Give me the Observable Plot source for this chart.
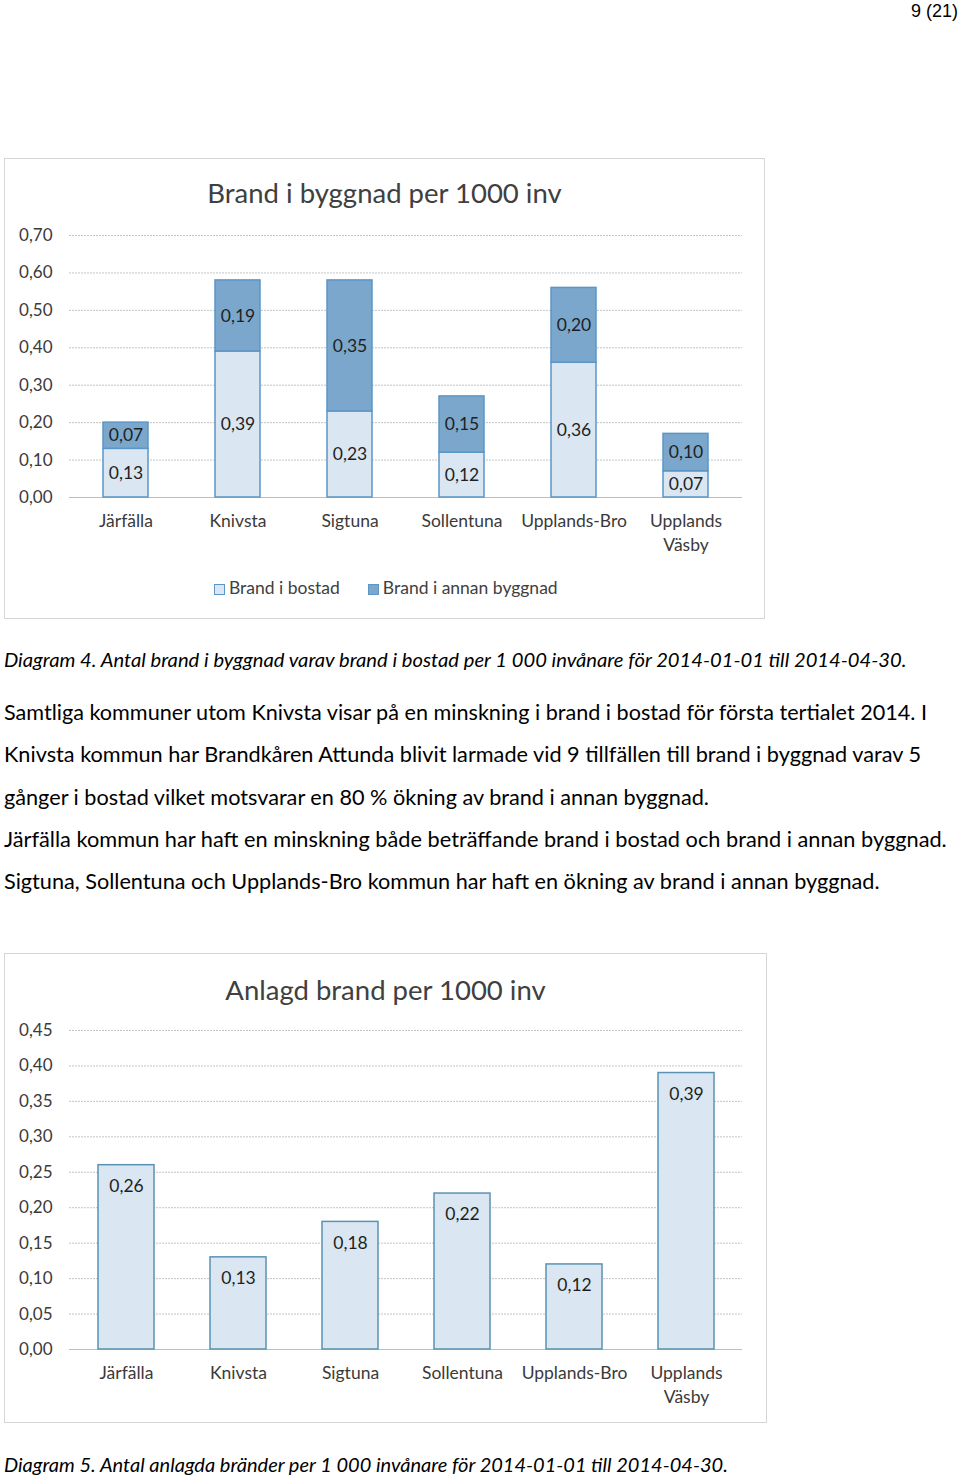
<!DOCTYPE html>
<html>
<head>
<meta charset="utf-8">
<script src="https://cdn.jsdelivr.net/npm/d3@7"></script>
<script src="https://cdn.jsdelivr.net/npm/@observablehq/plot@0.6"></script>
<style>
  html, body { margin: 0; padding: 0; background: #fff; }
  body { width: 960px; height: 1478px; position: relative; overflow: hidden; font-family: Lato, "Noto Sans", sans-serif; color: #000; }
  .abs { position: absolute; white-space: nowrap; }
  .box { position: absolute; border: 1px solid #d6d6d6; box-sizing: border-box; background: #fff; }
  .title { position: absolute; left: 0; right: 0; text-align: center; font-family: Lato, sans-serif; color: #404040; font-size: 27.5px; line-height: 32px; }
  .line { position: absolute; left: 4px; white-space: nowrap; line-height: 26px; }
  .cap { font-style: italic; }
  .legend { position: absolute; font-family: Lato, sans-serif; font-size: 17.5px; color: #404040; line-height: 20px; white-space: nowrap; }
  .sw { display: inline-block; width: 11px; height: 11px; vertical-align: -1px; margin-right: 4px; box-sizing: border-box; }
</style>
</head>
<body>
<div class="abs" style="right:2px; top:0px; font-family:'Liberation Sans', Arial, sans-serif; font-size:18px; line-height:22px;">9 (21)</div>

<div class="box" id="box1" style="left:4px; top:158px; width:761px; height:461px;">
  <div class="title" style="top:18px;">Brand i byggnad per 1000 inv</div>
</div>
<div id="chart1" class="abs" style="left:4px; top:215px;"></div>
<div class="legend" id="legend1" style="left:214px; top:578px;"></div>

<div class="line cap" data-w="903" style="top:646px; font-size:18px;">Diagram 4. Antal brand i byggnad varav brand i bostad per 1 000 invånare för 2014-01-01 till 2014-04-30.</div>
<div class="line" data-w="923" style="top:699px; font-size:19.5px;">Samtliga kommuner utom Knivsta visar på en minskning i brand i bostad för första tertialet 2014. I</div>
<div class="line" data-w="917" style="top:741px; font-size:19.5px;">Knivsta kommun har Brandkåren Attunda blivit larmade vid 9 tillfällen till brand i byggnad varav 5</div>
<div class="line" data-w="705" style="top:784px; font-size:19.5px;">gånger i bostad vilket motsvarar en 80 % ökning av brand i annan byggnad.</div>
<div class="line" data-w="943" style="top:826px; font-size:19.5px;">Järfälla kommun har haft en minskning både beträffande brand i bostad och brand i annan byggnad.</div>
<div class="line" data-w="876" style="top:868px; font-size:19.5px;">Sigtuna, Sollentuna och Upplands-Bro kommun har haft en ökning av brand i annan byggnad.</div>

<div class="box" id="box2" style="left:4px; top:953px; width:763px; height:470px;">
  <div class="title" style="top:20px;">Anlagd brand per 1000 inv</div>
</div>
<div id="chart2" class="abs" style="left:4px; top:1010px;"></div>

<div class="line cap" data-w="724" style="top:1451px; font-size:18px;">Diagram 5. Antal anlagda bränder per 1 000 invånare för 2014-01-01 till 2014-04-30.</div>

<script>
// ---------- Data ----------
const kommuner = ["Järfälla", "Knivsta", "Sigtuna", "Sollentuna", "Upplands-Bro", "Upplands Väsby"];
const serier = ["Brand i bostad", "Brand i annan byggnad"];
const brandBostad = [0.13, 0.39, 0.23, 0.12, 0.36, 0.07];
const brandAnnanByggnad = [0.07, 0.19, 0.35, 0.15, 0.20, 0.10];
const anlagdBrand = [0.26, 0.13, 0.18, 0.22, 0.12, 0.39];
const yTicks1 = [0, 0.1, 0.2, 0.3, 0.4, 0.5, 0.6, 0.7];
const yTicks2 = [0, 0.05, 0.1, 0.15, 0.2, 0.25, 0.3, 0.35, 0.4, 0.45];

const lightFill = "#dae6f1";
const darkFill = "#7aa7cb";
const barStroke1 = "#5b96c6";
const barStroke2 = "#5a93b3";
const gridColor = "#c4c4c4";
const textColor = "#3a3a3a";

const fmt = d => d.toFixed(2).replace(".", ",");
const catLabel = d => d.replace(" ", "\n");

const stacked = [];
serier.forEach((s, si) => {
  const vals = si === 0 ? brandBostad : brandAnnanByggnad;
  kommuner.forEach((k, i) => stacked.push({kommun: k, serie: s, value: vals[i]}));
});
const single = kommuner.map((k, i) => ({kommun: k, value: anlagdBrand[i]}));

const plotStyle = {fontFamily: "Lato, sans-serif", fontSize: "17.5px", color: textColor, background: "transparent", overflow: "visible"};

// ---------- Chart 1 ----------
const chart1 = Plot.plot({
  width: 760, height: 345,
  marginLeft: 65, marginRight: 22, marginTop: 20, marginBottom: 63,
  style: plotStyle,
  x: {domain: kommuner, paddingInner: 0.6, paddingOuter: 0.3, label: null},
  y: {domain: [0, 0.7], label: null},
  color: {domain: serier, range: [lightFill, darkFill]},
  marks: [
    Plot.gridY(yTicks1, {stroke: gridColor, strokeOpacity: 1, strokeDasharray: "2,1"}),
    Plot.ruleY([0], {stroke: "#bdbdbd"}),
    Plot.barY(stacked, Plot.stackY({x: "kommun", y: "value", fill: "serie", stroke: barStroke1, strokeWidth: 1.5})),
    Plot.text(stacked, Plot.stackY({x: "kommun", y: "value", text: d => fmt(d.value), fill: "#1f1f1f", fontSize: 17.5})),
    Plot.axisY({ticks: yTicks1, tickSize: 0, tickPadding: 17, tickFormat: fmt, fill: textColor, fontSize: 17}),
    Plot.axisX({tickSize: 0, tickPadding: 12, lineHeight: 1.38, tickFormat: catLabel, fill: textColor, fontSize: 17.5})
  ]
});
document.getElementById("chart1").appendChild(chart1);

// legend 1
const leg = document.getElementById("legend1");
serier.forEach((s, i) => {
  const item = document.createElement("span");
  item.style.marginRight = i === 0 ? "28px" : "0";
  item.innerHTML = `<span class="sw" style="background:${i === 0 ? lightFill : darkFill};border:1px solid ${barStroke1}"></span>${s}`;
  leg.appendChild(item);
});

// ---------- Chart 2 ----------
const chart2 = Plot.plot({
  width: 762, height: 402,
  marginLeft: 65, marginRight: 24, marginTop: 20, marginBottom: 63,
  style: plotStyle,
  x: {domain: kommuner, paddingInner: 0.5, paddingOuter: 0.25, label: null},
  y: {domain: [0, 0.45], label: null},
  marks: [
    Plot.gridY(yTicks2, {stroke: gridColor, strokeOpacity: 1, strokeDasharray: "2,1"}),
    Plot.ruleY([0], {stroke: "#bdbdbd"}),
    Plot.barY(single, {x: "kommun", y: "value", fill: lightFill, stroke: barStroke2, strokeWidth: 1.5}),
    Plot.text(single, {x: "kommun", y: "value", text: d => fmt(d.value), dy: 21, fill: "#1f1f1f", fontSize: 17.5}),
    Plot.axisY({ticks: yTicks2, tickSize: 0, tickPadding: 17, tickFormat: fmt, fill: textColor, fontSize: 17}),
    Plot.axisX({tickSize: 0, tickPadding: 12, lineHeight: 1.38, tickFormat: catLabel, fill: textColor, fontSize: 17.5})
  ]
});
document.getElementById("chart2").appendChild(chart2);

// ---------- fit text lines to measured widths ----------
document.querySelectorAll(".line[data-w]").forEach(el => {
  const target = +el.dataset.w;
  const fs = parseFloat(getComputedStyle(el).fontSize);
  const w = el.getBoundingClientRect().width;
  if (w > 0) el.style.fontSize = (fs * target / w).toFixed(2) + "px";
});
</script>
</body>
</html>
